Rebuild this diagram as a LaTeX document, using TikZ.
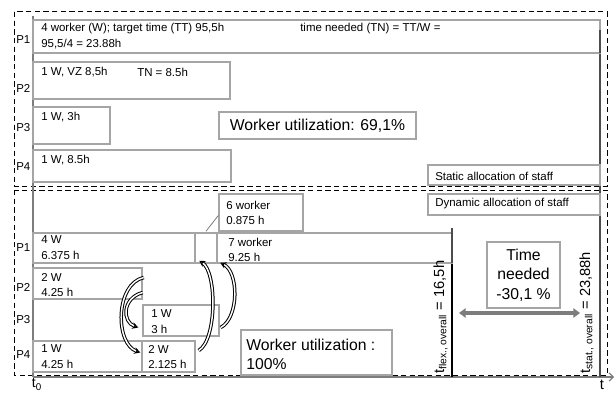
\documentclass[tikz,border=0pt]{standalone}
\usepackage{fontspec}
\setmainfont{Liberation Sans}
\usetikzlibrary{arrows.meta,fit,calc}
\definecolor{boxgray}{RGB}{165,165,165}
\definecolor{axgray}{RGB}{125,125,125}
\begin{document}
\begin{tikzpicture}[x=0.75pt,y=-0.75pt,
  pbox/.style={draw=boxgray, line width=1.1pt, inner sep=0pt, fill=white},
  dbox/.style={draw=black, dash pattern=on 4pt off 2.5pt, line width=0.75pt},
  txt/.style={font=\fontsize{8.6pt}{10pt}\selectfont, inner sep=0pt, anchor=west},
  big/.style={font=\fontsize{11.8pt}{14.5pt}\selectfont, inner sep=0pt},
  move/.style={draw=black, double=white, line width=0.75pt, double distance=1.1pt,
    -{Stealth[length=4.5pt,width=5pt,open]}},
]
\useasboundingbox (0,0) rectangle (616,392);

% dashed frames
\draw[dbox] (14,12) rectangle (607,186);
\draw[dbox] (14,190) rectangle (607,375);

% axes
\coordinate (o) at (33,377);
\coordinate (ytop) at (33,16);
\coordinate (xend) at (614,377);
\draw[draw=axgray, line width=1pt] (ytop) -- (o);
\draw[draw=axgray, line width=0.9pt, -{Straight Barb[length=3pt,width=6pt]}] (o) -- (xend);
\node[font=\fontsize{10.5pt}{12pt}\selectfont, inner sep=0pt, anchor=north] (t0) at (37,378.5) {t\textsubscript{0}};
\node[font=\fontsize{11pt}{12pt}\selectfont, inner sep=0pt, anchor=north] (tt) at (602,380) {t};

% time marker lines
\coordinate (stattop) at (600,28);
\coordinate (statbot) at (600,377);
\draw[draw=black!70, line width=0.9pt] (stattop) -- (statbot);
\coordinate (flextop) at (452,228);
\coordinate (flexbot) at (452,377);
\draw[draw=black, line width=0.9pt] (flextop) -- (flexbot);

% ---------- static allocation ----------
\node[pbox, fit={(33,20) (600,53)}] (s1) {};
\node[pbox, fit={(33,62) (230,99)}] (s2) {};
\node[pbox, fit={(33,107) (110,144)}] (s3) {};
\node[pbox, fit={(33,150) (231,182)}] (s4) {};
\draw[draw=black!70, line width=0.9pt] (600,30) -- (600,53);

\node[txt] (s1a) at (41,29) {4 worker (W); target time (TT) 95,5h};
\node[txt] (s1b) at (300,29) {time needed (TN) = TT/W =};
\node[txt] (s1c) at (41,44) {95,5/4 = 23.88h};
\node[txt] (s2a) at (41,72) {1 W, VZ 8,5h};
\node[txt] (s2b) at (137,72) {TN = 8.5h};
\node[txt] (s3a) at (41,117) {1 W, 3h};
\node[txt] (s4a) at (41,160) {1 W, 8.5h};

\node[txt] (lp1) at (16,40) {P1};
\node[txt] (lp2) at (16,88) {P2};
\node[txt] (lp3) at (16,128) {P3};
\node[txt] (lp4) at (16,167) {P4};

\node[pbox, fit={(219,112) (416,139)}] (wu1) {};
\node[big] (wu1t) at (wu1.center) {Worker utilization: 69,1\%};

\node[pbox, fit={(428,165) (600,185)}] (stat) {};
\node[txt] (statt) at (435,176) {Static allocation of staff};

% ---------- dynamic allocation ----------
\node[pbox, fit={(428,194) (600,215)}] (dyn) {};
\node[txt] (dynt) at (435,204) {Dynamic allocation of staff};

\node[pbox, fit={(33,233) (195,263)}] (d1a) {};
\node[pbox, fit={(195,233) (217,263)}] (d1b) {};
\node[pbox, fit={(217,233) (452,263)}] (d1c) {};
\node[pbox, fit={(33,268) (142,299)}] (d2) {};
\node[pbox, fit={(143,305) (219,336)}] (d3) {};
\node[pbox, fit={(33,341) (142,372)}] (d4a) {};
\node[pbox, fit={(142,341) (195,372)}] (d4b) {};
\node[pbox, fit={(219,194) (303,231)}] (d6) {};
\draw[draw=axgray, line width=0.6pt] ($(d1b.north)+(0,-1)$) -- ($(d6.west)+(0,3)$);

\draw[draw=black!70, line width=0.9pt] (flextop) -- (452,263);

\node[txt] (d1at) at (41,240) {4 W};
\node[txt] (d1ab) at (41,255) {6.375 h};
\node[txt] (d6t) at (226,205) {6 worker};
\node[txt] (d6b) at (226,220) {0.875 h};
\node[txt] (d1ct) at (228,242) {7 worker};
\node[txt] (d1cb) at (228,257) {9.25 h};
\node[txt] (d2t) at (41,277) {2 W};
\node[txt] (d2b) at (41,292) {4.25 h};
\node[txt] (d3t) at (151,314) {1 W};
\node[txt] (d3b) at (151,329) {3 h};
\node[txt] (d4at) at (41,349) {1 W};
\node[txt] (d4ab) at (41,364) {4.25 h};
\node[txt] (d4bt) at (148,349) {2 W};
\node[txt] (d4bb) at (148,364) {2.125 h};

\node[txt] (lq1) at (16,248) {P1};
\node[txt] (lq2) at (16,287) {P2};
\node[txt] (lq3) at (16,320) {P3};
\node[txt] (lq4) at (16,355) {P4};

\node[pbox, fit={(241,330) (392,375)}] (wu2) {};
\node[big, anchor=west] (wu2a) at (246,345) {Worker utilization :};
\node[big, anchor=west] (wu2b) at (246,364) {100\%};

\node[pbox, fit={(487,242) (560,308)}] (tn) {};
\node[big, align=center] (tnt) at (tn.center) {Time\\needed\\-30,1 \%};

\coordinate (da1) at (459,313);
\coordinate (da2) at (580,313);
\draw[draw=axgray, line width=2.8pt, {Triangle[length=5pt,width=7pt]}-{Triangle[length=5pt,width=7pt]}] (da1) -- (da2);

\node[rotate=90, inner sep=0pt, font=\fontsize{11pt}{12pt}\selectfont, anchor=south west] (tflex) at (448,374) {t\textsubscript{flex., overall} = 16,5h};
\node[rotate=90, inner sep=0pt, font=\fontsize{11pt}{12pt}\selectfont, anchor=south west] (tstat) at (594,374) {t\textsubscript{stat., overall} = 23,88h};

% worker moves
\draw[move] ($(d2.east)+(1,-6)$) .. controls (115,284) and (115,344) .. ($(d4b.west)+(-1,-4)$);
\draw[move] ($(d2.east)+(0,9)$) .. controls (122,298) and (122,322) .. ($(d3.west)+(-4,7)$);
\draw[move] ($(d4b.east)+(3,-6)$) .. controls (217,340) and (217,272) .. ($(d1b.south west)+(5,-3)$);
\draw[move] ($(d3.east)+(1,7)$) .. controls (239,318) and (239,272) .. ($(d1c.south west)+(4,-1)$);
\end{tikzpicture}
\end{document}
